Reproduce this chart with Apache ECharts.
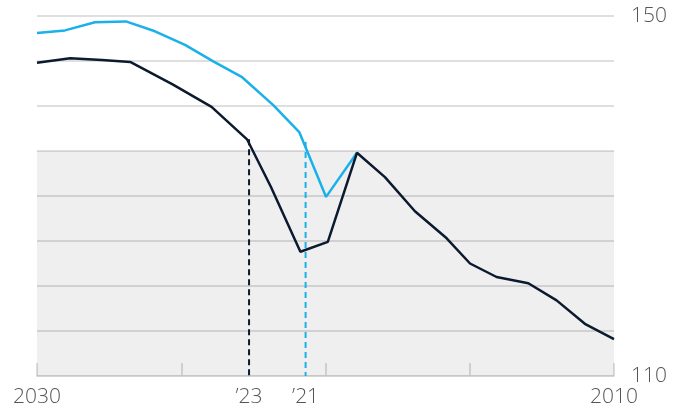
<!DOCTYPE html>
<html>
<head>
<meta charset="utf-8">
<script src="https://cdn.jsdelivr.net/npm/echarts@6/dist/echarts.min.js"></script>
<style>
  html, body { margin: 0; padding: 0; background: #ffffff; }
  #chart { width: 687px; height: 411px; }
</style>
</head>
<body>
<div id="chart"></div>
<script>
// Lower series (dark): years and index values
const darkYears  = [2030.0, 2028.85, 2027.75, 2026.77, 2025.3, 2023.95, 2022.72, 2021.89, 2020.87, 2019.92,
                    2018.91, 2017.94, 2016.9, 2015.8, 2014.99, 2014.07, 2012.97, 2011.99, 2011.01, 2010.0];
const darkValues = [144.8, 145.3, 145.1, 144.9, 142.4, 139.9, 136.3, 131.0, 123.8, 124.9,
                    134.8, 132.1, 128.3, 125.3, 122.5, 121.0, 120.3, 118.4, 115.8, 114.1];

// Upper series (light blue): years and index values
const blueYears  = [2030.0, 2029.03, 2027.99, 2026.92, 2025.91, 2024.87, 2023.86, 2022.89, 2021.81, 2020.91, 2019.98, 2018.91];
const blueValues = [148.1, 148.4, 149.3, 149.4, 148.3, 146.8, 144.9, 143.2, 140.1, 137.1, 129.9, 134.8];

// Dashed reference markers: year position, top value, label
const markerYears  = [2022.65, 2020.69];
const markerTops   = [136.3, 136.0];
const markerLabels = ['\u201923', '\u201921'];
const markerColors = ['#0b1a2e', '#1ab1ea'];

// Axis ticks and labels
const xEndYears  = [2030, 2010];
const xEndLabels = ['2030', '2010'];
const xTickYears = [2010, 2015, 2020, 2025, 2030];
const yLabelValues = [110, 150];
const shadeRange = [110, 135];

const xLabelValues = xEndYears.concat(markerYears);
const xLabelTexts  = xEndLabels.concat(markerLabels);

const zip = (xs, ys) => xs.map((x, i) => [x, ys[i]]);

const labelFont = {
  color: '#555555',
  fontFamily: '"Open Sans", sans-serif',
  fontWeight: 300,
  fontSize: 21
};

const chart = echarts.init(document.getElementById('chart'), null, { renderer: 'canvas' });

const markerSeries = markerYears.map((yr, i) => ({
  type: 'line',
  data: [[yr, markerTops[i]], [yr, 110]],
  symbol: 'none',
  silent: true,
  z: 1,
  lineStyle: { color: markerColors[i], width: 2, type: [6, 4] }
}));

chart.setOption({
  animation: false,
  backgroundColor: '#ffffff',
  grid: { left: 37, right: 73, top: 16, bottom: 35 },
  xAxis: {
    type: 'value',
    inverse: true,
    min: 2010,
    max: 2030,
    interval: 5,
    axisLine: { show: true, lineStyle: { color: '#d2d2d2', width: 1.5 } },
    axisTick: {
      show: true, inside: true, length: 13,
      customValues: xTickYears,
      lineStyle: { color: '#d2d2d2', width: 1.5 }
    },
    splitLine: { show: false },
    axisLabel: Object.assign({
      customValues: xLabelValues,
      margin: 11,
      formatter: (v) => {
        const idx = xLabelValues.findIndex(x => Math.abs(x - v) < 1e-6);
        return idx >= 0 ? xLabelTexts[idx] : '';
      }
    }, labelFont)
  },
  yAxis: {
    type: 'value',
    position: 'right',
    min: 110,
    max: 150,
    interval: 5,
    axisLine: { show: false },
    axisTick: { show: false },
    splitLine: { show: true, lineStyle: { color: '#d4d4d4', width: 1.5 } },
    axisLabel: Object.assign({
      customValues: yLabelValues,
      align: 'right',
      margin: 53
    }, labelFont)
  },
  series: [
    {
      type: 'line',
      data: zip(blueYears, blueValues),
      symbol: 'none',
      z: 2,
      lineStyle: { color: '#1ab1ea', width: 2.5 },
      markArea: {
        silent: true,
        itemStyle: { color: 'rgba(0,0,0,0.063)' },
        data: [[{ yAxis: shadeRange[1] }, { yAxis: shadeRange[0] }]]
      }
    },
    {
      type: 'line',
      data: zip(darkYears, darkValues),
      symbol: 'none',
      z: 3,
      lineStyle: { color: '#0b1a2e', width: 2.5 }
    }
  ].concat(markerSeries)
});
</script>
</body>
</html>
